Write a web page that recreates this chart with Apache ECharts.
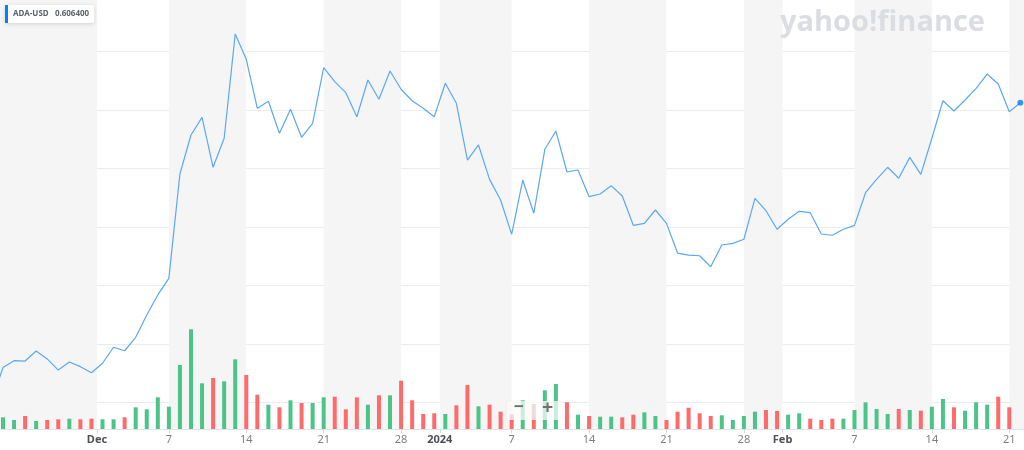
<!DOCTYPE html>
<html>
<head>
<meta charset="utf-8">
<script src="https://cdn.jsdelivr.net/npm/echarts@6/dist/echarts.min.js"></script>
<style>html,body{margin:0;padding:0;background:#fff;}#c{width:1024px;height:450px;}</style>
</head>
<body>
<div id="c"></div>
<script>
const seriesName = 'ADA-USD';
const lastQuote = '0.606400';
const dates = [
 '2023-11-21','2023-11-22','2023-11-23','2023-11-24','2023-11-25','2023-11-26','2023-11-27','2023-11-28','2023-11-29','2023-11-30',
 '2023-12-01','2023-12-02','2023-12-03','2023-12-04','2023-12-05','2023-12-06','2023-12-07','2023-12-08','2023-12-09','2023-12-10',
 '2023-12-11','2023-12-12','2023-12-13','2023-12-14','2023-12-15','2023-12-16','2023-12-17','2023-12-18','2023-12-19','2023-12-20',
 '2023-12-21','2023-12-22','2023-12-23','2023-12-24','2023-12-25','2023-12-26','2023-12-27','2023-12-28','2023-12-29','2023-12-30','2023-12-31',
 '2024-01-01','2024-01-02','2024-01-03','2024-01-04','2024-01-05','2024-01-06','2024-01-07','2024-01-08','2024-01-09','2024-01-10',
 '2024-01-11','2024-01-12','2024-01-13','2024-01-14','2024-01-15','2024-01-16','2024-01-17','2024-01-18','2024-01-19','2024-01-20',
 '2024-01-21','2024-01-22','2024-01-23','2024-01-24','2024-01-25','2024-01-26','2024-01-27','2024-01-28','2024-01-29','2024-01-30','2024-01-31',
 '2024-02-01','2024-02-02','2024-02-03','2024-02-04','2024-02-05','2024-02-06','2024-02-07','2024-02-08','2024-02-09','2024-02-10',
 '2024-02-11','2024-02-12','2024-02-13','2024-02-14','2024-02-15','2024-02-16','2024-02-17','2024-02-18','2024-02-19','2024-02-20',
 '2024-02-21','2024-02-22'
];
const closes = [
 0.3523,0.3801,0.3859,0.3856,0.3942,0.3874,0.3779,0.3848,0.3808,0.3756,
 0.3837,0.3974,0.3944,0.4059,0.4250,0.4421,0.4563,0.5455,0.5788,0.5939,
 0.5512,0.5760,0.6651,0.6435,0.6016,0.6076,0.5803,0.6008,0.5768,0.5888,
 0.6363,0.6244,0.6150,0.5944,0.6258,0.6093,0.6335,0.6179,0.6081,0.6016,0.5944,
 0.6230,0.6059,0.5574,0.5703,0.5409,0.5232,0.4939,0.5403,0.5119,0.5666,
 0.5822,0.5472,0.5489,0.5261,0.5284,0.5355,0.5267,0.5016,0.5033,0.5147,
 0.5033,0.4779,0.4762,0.4756,0.4662,0.4848,0.4862,0.4897,0.5247,0.5141,0.4982,
 0.5068,0.5136,0.5124,0.4942,0.4931,0.4982,0.5016,0.5295,0.5409,0.5512,
 0.5418,0.5597,0.5452,0.5760,0.6081,0.5993,0.6087,0.6187,0.6309,0.6224,
 0.5987,0.6064
];
// volume in millions of USD
const volumes = [
 240,234,180,260,160,180,194,206,194,206,
 194,194,234,434,394,634,446,1280,1994,914,
 1020,954,1394,1080,686,486,434,574,520,520,
 634,646,394,634,486,674,674,966,574,300,314,
 300,474,880,454,486,346,294,574,500,774,
 900,534,286,260,246,246,234,286,334,260,
 180,346,426,314,260,274,180,260,346,380,360,
 286,314,206,180,206,206,380,534,400,300,
 400,380,366,446,600,434,366,534,486,646,
 434,null
];
const tickDates = ['2023-12-01','2023-12-07','2023-12-14','2023-12-21','2023-12-28','2024-01-01','2024-01-07','2024-01-14','2024-01-21','2024-01-28','2024-02-01','2024-02-07','2024-02-14','2024-02-21'];
const tickLabels = ['Dec','7','14','21','28','2024','7','14','21','28','Feb','7','14','21'];

const UP = '#4cc488', DOWN = '#ff6b6b', LINE = '#5aa9f2';
function dayNum(s){const p=s.split('-').map(Number);return Date.UTC(p[0],p[1]-1,p[2])/864e5;}
const isMonth = tickLabels.map(t => !/^\d{1,2}$/.test(t));
const tickPos = tickDates.map((d,i) => dayNum(d) - (isMonth[i] ? 0.5 : 0));
const labelMap = {};
tickPos.forEach((v,i) => { labelMap[v.toFixed(2)] = isMonth[i] ? '{m|' + tickLabels[i] + '}' : tickLabels[i]; });

const xMin = dayNum('2023-11-22') - 0.27;
const xMax = xMin + 92.6;

// alternating weekly background bands (gray bands)
const edges = [xMin].concat(tickPos).concat([xMax]);
const bands = [];
for (let i = 0; i < edges.length - 1; i += 2) bands.push([{xAxis: edges[i]}, {xAxis: edges[i+1]}]);

const lineData = dates.map((d,i) => [dayNum(d), closes[i]]);
const barData = dates.map((d,i) => ({
  value: [dayNum(d), volumes[i]],
  itemStyle: {color: i > 0 && closes[i] >= closes[i-1] ? UP : DOWN}
}));
const lastIdx = dates.length - 1;

const chart = echarts.init(document.getElementById('c'));
const hiddenX = {type:'value', min:xMin, max:xMax, show:false};
chart.setOption({
  animation: false,
  textStyle: {fontFamily: 'Noto Sans, sans-serif'},
  grid: [
    {left:0, right:0, top:51.7, bottom:47.3},
    {left:0, right:0, top:229, bottom:21},
    {left:0, right:0, top:0, bottom:21}
  ],
  xAxis: [
    Object.assign({gridIndex:0}, hiddenX),
    {gridIndex:1, type:'value', min:xMin, max:xMax,
     axisLine:{show:true, onZero:false, lineStyle:{color:'#e3e3e3'}},
     axisTick:{show:true, length:4, lineStyle:{color:'#d8d8d8'}, customValues: tickPos},
     axisLabel:{show:true, margin:5, fontSize:11, color:'#7b7f85', customValues: tickPos,
       formatter: v => labelMap[v.toFixed(2)] || '',
       rich:{m:{fontWeight:'bold', color:'#4d5157', fontSize:11}}},
     splitLine:{show:false}},
    Object.assign({gridIndex:2}, hiddenX)
  ],
  yAxis: [
    {gridIndex:0, type:'value', min:0.35, max:0.65, interval:0.05, z:1,
     axisLine:{show:false}, axisTick:{show:false}, axisLabel:{show:false},
     splitLine:{show:true, lineStyle:{color:'#ececec', width:1}}},
    {gridIndex:1, type:'value', min:0, max:4000, show:false, splitLine:{show:false}},
    {gridIndex:2, type:'value', min:0, max:1, show:false, splitLine:{show:false}}
  ],
  legend: {
    left:5, top:5, padding:[0,5,0,0], itemWidth:3, itemHeight:18, itemGap:0,
    backgroundColor:'#ffffff', borderRadius:2,
    shadowBlur:4, shadowColor:'rgba(0,0,0,0.15)', shadowOffsetY:1,
    data:[{name:seriesName, icon:'rect', itemStyle:{color:'#0a80f0'}}],
    formatter: n => '{n|' + n + '}  {n|' + lastQuote + '}',
    textStyle:{rich:{n:{fontSize:8, fontWeight:'bold', color:'#5b636a'}}},
    selectedMode:false, z:20
  },
  graphic: [
    {type:'text', right:39, top:8, z:100, silent:true,
     style:{text:'yahoo!finance', font:'bold 29px "Open Sans", sans-serif', fill:'#dcdde2'}},
    {type:'rect', left:507, top:401, z:100, silent:true, shape:{width:55,height:19,r:3},
     style:{fill:'rgba(255,255,255,0.72)', shadowBlur:3, shadowColor:'rgba(0,0,0,0.08)'}},
    {type:'text', left:514, top:399, z:101, silent:true,
     style:{text:'\u2212', font:'bold 17px sans-serif', fill:'#707070'}},
    {type:'rect', left:534, top:404, z:101, silent:true, shape:{width:1,height:13},
     style:{fill:'#e2e2e2'}},
    {type:'text', left:542, top:398, z:101, silent:true,
     style:{text:'+', font:'bold 19px sans-serif', fill:'#707070'}}
  ],
  series: [
    {type:'line', xAxisIndex:2, yAxisIndex:2, data:[], silent:true, z:0,
     markArea:{silent:true, itemStyle:{color:'#f5f5f5'}, data:bands}},
    {type:'bar', xAxisIndex:1, yAxisIndex:1, data:barData, barWidth:4, z:3, silent:true},
    {name:seriesName, type:'line', xAxisIndex:0, yAxisIndex:0, data:lineData, clip:false,
     showSymbol:false, z:4, lineStyle:{color:LINE, width:1.2}, itemStyle:{color:LINE}},
    {type:'scatter', xAxisIndex:0, yAxisIndex:0, data:[lineData[lastIdx]], symbolSize:6, z:5,
     itemStyle:{color:'#0a80f0'}, silent:true}
  ]
});
</script>
</body>
</html>
